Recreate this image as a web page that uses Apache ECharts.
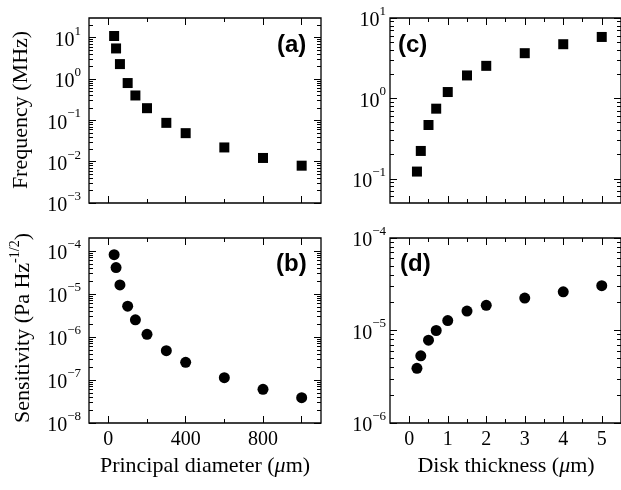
<!DOCTYPE html>
<html><head><meta charset="utf-8">
<script src="https://cdn.jsdelivr.net/npm/echarts@6/dist/echarts.min.js"></script>
<style>html,body{margin:0;padding:0;background:#fff}#c{width:621px;height:490px}</style>
</head><body><div id="c"></div>
<script>
// ---- data ----
const diameter = [30, 40, 60, 100, 140, 200, 300, 400, 600, 800, 1000];
const freqA = [11, 5.5, 2.3, 0.8, 0.40, 0.197, 0.087, 0.049, 0.0221, 0.0123, 0.0080];
const sensB = [8.2e-5, 4.1e-5, 1.62e-5, 5.2e-6, 2.5e-6, 1.15e-6, 4.8e-7, 2.58e-7, 1.13e-7, 6.07e-8, 3.88e-8];
const thickness = [0.2, 0.3, 0.5, 0.7, 1.0, 1.5, 2, 3, 4, 5];
const freqC = [0.123, 0.222, 0.467, 0.745, 1.20, 1.93, 2.54, 3.65, 4.72, 5.81];
const sensD = [3.9e-6, 5.32e-6, 7.86e-6, 1.0e-5, 1.28e-5, 1.62e-5, 1.87e-5, 2.24e-5, 2.62e-5, 3.05e-5];

const diameterLabels = [0, 400, 800];
const diameterMajor = [0, 400, 800, 1000];
const diameterMinor = [200, 600];
const thicknessLabels = [0, 1, 2, 3, 4, 5];
const thicknessMinor = [0.5, 1.5, 2.5, 3.5, 4.5];
const freqATicks = [1e-3, 1e-2, 1e-1, 1, 10];
const sensBTicks = [1e-8, 1e-7, 1e-6, 1e-5, 1e-4];
const freqCTicks = [1e-1, 1, 10];
const sensDTicks = [1e-6, 1e-5, 1e-4];

// ---- helpers ----
const SERIF = 'Liberation Serif';
function logMinor(lo, hi) {
  const out = [];
  for (let e = -10; e <= 3; e++) {
    for (let k = 2; k <= 9; k++) {
      const v = k * Math.pow(10, e);
      if (v > lo * 1.0001 && v < hi * 0.9999) out.push(v);
    }
  }
  return out;
}
function expLabel(v) {
  const e = Math.round(Math.log10(v));
  return '{b|10}{s|' + (e < 0 ? '\u2212' + (-e) : e) + '}';
}
const richLab = {
  b: { fontFamily: SERIF, fontSize: 20, color: '#000', lineHeight: 26, verticalAlign: 'bottom' },
  s: { fontFamily: SERIF, fontSize: 13, color: '#000', lineHeight: 13, verticalAlign: 'top' }
};
const tickStyle = { color: '#000', width: 1 };

function xAxes(gi, min, max, major, minor, labels) {
  const base = { gridIndex: gi, type: 'value', min, max, splitLine: { show: false },
    axisLine: { show: false, onZero: false } };
  return [
    Object.assign({}, base, { position: 'bottom',
      axisTick: { inside: true, length: 7, customValues: major, lineStyle: tickStyle },
      axisLabel: { show: !!labels, customValues: labels || [], margin: 7,
        fontFamily: SERIF, fontSize: 20, color: '#000' } }),
    Object.assign({}, base, { position: 'bottom',
      axisTick: { inside: true, length: 4, customValues: minor, lineStyle: tickStyle },
      axisLabel: { show: false } }),
    Object.assign({}, base, { position: 'top',
      axisTick: { inside: true, length: 7, customValues: major, lineStyle: tickStyle },
      axisLabel: { show: false } }),
    Object.assign({}, base, { position: 'top',
      axisTick: { inside: true, length: 4, customValues: minor, lineStyle: tickStyle },
      axisLabel: { show: false } })
  ];
}
function yAxes(gi, min, max, major, margin) {
  const minor = logMinor(min, max);
  const base = { gridIndex: gi, type: 'log', logBase: 10, min, max, splitLine: { show: false },
    axisLine: { show: false, onZero: false } };
  return [
    Object.assign({}, base, { position: 'left',
      axisTick: { inside: true, length: 7, customValues: major, lineStyle: tickStyle },
      axisLabel: { customValues: major, margin: margin, formatter: expLabel, rich: richLab } }),
    Object.assign({}, base, { position: 'left',
      axisTick: { inside: true, length: 4, customValues: minor, lineStyle: tickStyle },
      axisLabel: { show: false } }),
    Object.assign({}, base, { position: 'right',
      axisTick: { inside: true, length: 7, customValues: major, lineStyle: tickStyle },
      axisLabel: { show: false } }),
    Object.assign({}, base, { position: 'right',
      axisTick: { inside: true, length: 4, customValues: minor, lineStyle: tickStyle },
      axisLabel: { show: false } })
  ];
}
function grid(left, top) {
  return { left, top, width: 232, height: 185, show: true, borderColor: '#000', borderWidth: 1.3,
    backgroundColor: 'transparent', containLabel: false };
}
const markStyle = { color: '#000', opacity: 1 };

const chart = echarts.init(document.getElementById('c'), null, { renderer: 'canvas' });
const option = {
  animation: false,
  backgroundColor: '#fff',
  grid: [grid(89, 18), grid(89, 238), grid(390, 18), grid(390, 238)],
  xAxis: [].concat(
    xAxes(0, -100, 1100, diameterMajor, diameterMinor, null),
    xAxes(1, -100, 1100, diameterMajor, diameterMinor, diameterLabels),
    xAxes(2, -0.5, 5.5, thicknessLabels, thicknessMinor, null),
    xAxes(3, -0.5, 5.5, thicknessLabels, thicknessMinor, thicknessLabels)
  ),
  yAxis: [].concat(
    yAxes(0, 1e-3, 30, freqATicks, 8),
    yAxes(1, 1e-8, 2e-4, sensBTicks, 8),
    yAxes(2, 0.05, 10, freqCTicks, 4),
    yAxes(3, 1e-6, 1e-4, sensDTicks, 4)
  ),
  series: [
    { type: 'scatter', xAxisIndex: 0, yAxisIndex: 0, symbol: 'rect', symbolSize: 10,
      itemStyle: markStyle, data: diameter.map((x, i) => [x, freqA[i]]) },
    { type: 'scatter', xAxisIndex: 4, yAxisIndex: 4, symbol: 'circle', symbolSize: 11,
      itemStyle: markStyle, data: diameter.map((x, i) => [x, sensB[i]]) },
    { type: 'scatter', xAxisIndex: 8, yAxisIndex: 8, symbol: 'rect', symbolSize: 10,
      itemStyle: markStyle, data: thickness.map((x, i) => [x, freqC[i]]) },
    { type: 'scatter', xAxisIndex: 12, yAxisIndex: 12, symbol: 'circle', symbolSize: 11,
      itemStyle: markStyle, data: thickness.map((x, i) => [x, sensD[i]]) }
  ],
  graphic: [
    { type: 'text', x: 277, y: 45, style: { text: '(a)', font: 'bold 24px "Liberation Sans"', fill: '#000', verticalAlign: 'middle' } },
    { type: 'text', x: 276, y: 264, style: { text: '(b)', font: 'bold 24px "Liberation Sans"', fill: '#000', verticalAlign: 'middle' } },
    { type: 'text', x: 398, y: 45, style: { text: '(c)', font: 'bold 24px "Liberation Sans"', fill: '#000', verticalAlign: 'middle' } },
    { type: 'text', x: 400, y: 264, style: { text: '(d)', font: 'bold 24px "Liberation Sans"', fill: '#000', verticalAlign: 'middle' } },
    { type: 'text', x: 21, y: 110, rotation: Math.PI / 2,
      style: { text: 'Frequency (MHz)', font: '22px "Liberation Serif"', fill: '#000', align: 'center', verticalAlign: 'middle' } },
    { type: 'text', x: 21, y: 328, rotation: Math.PI / 2,
      style: { text: '{n|Sensitivity (Pa Hz}{s|-1/2}{n|)}', align: 'center', verticalAlign: 'middle',
        rich: { n: { fontFamily: SERIF, fontSize: 22, color: '#000', lineHeight: 26, verticalAlign: 'bottom' },
                s: { fontFamily: SERIF, fontSize: 14, color: '#000', lineHeight: 14, verticalAlign: 'top' } } } },
    { type: 'text', x: 205, y: 466,
      style: { text: '{n|Principal diameter (}{i|\u03bc}{n|m)}', align: 'center', verticalAlign: 'middle',
        rich: { n: { fontFamily: SERIF, fontSize: 22, color: '#000' },
                i: { fontFamily: SERIF, fontSize: 22, fontStyle: 'italic', color: '#000' } } } },
    { type: 'text', x: 506, y: 466,
      style: { text: '{n|Disk thickness (}{i|\u03bc}{n|m)}', align: 'center', verticalAlign: 'middle',
        rich: { n: { fontFamily: SERIF, fontSize: 22, color: '#000' },
                i: { fontFamily: SERIF, fontSize: 22, fontStyle: 'italic', color: '#000' } } } }
  ]
};
chart.setOption(option);
</script>
</body></html>
